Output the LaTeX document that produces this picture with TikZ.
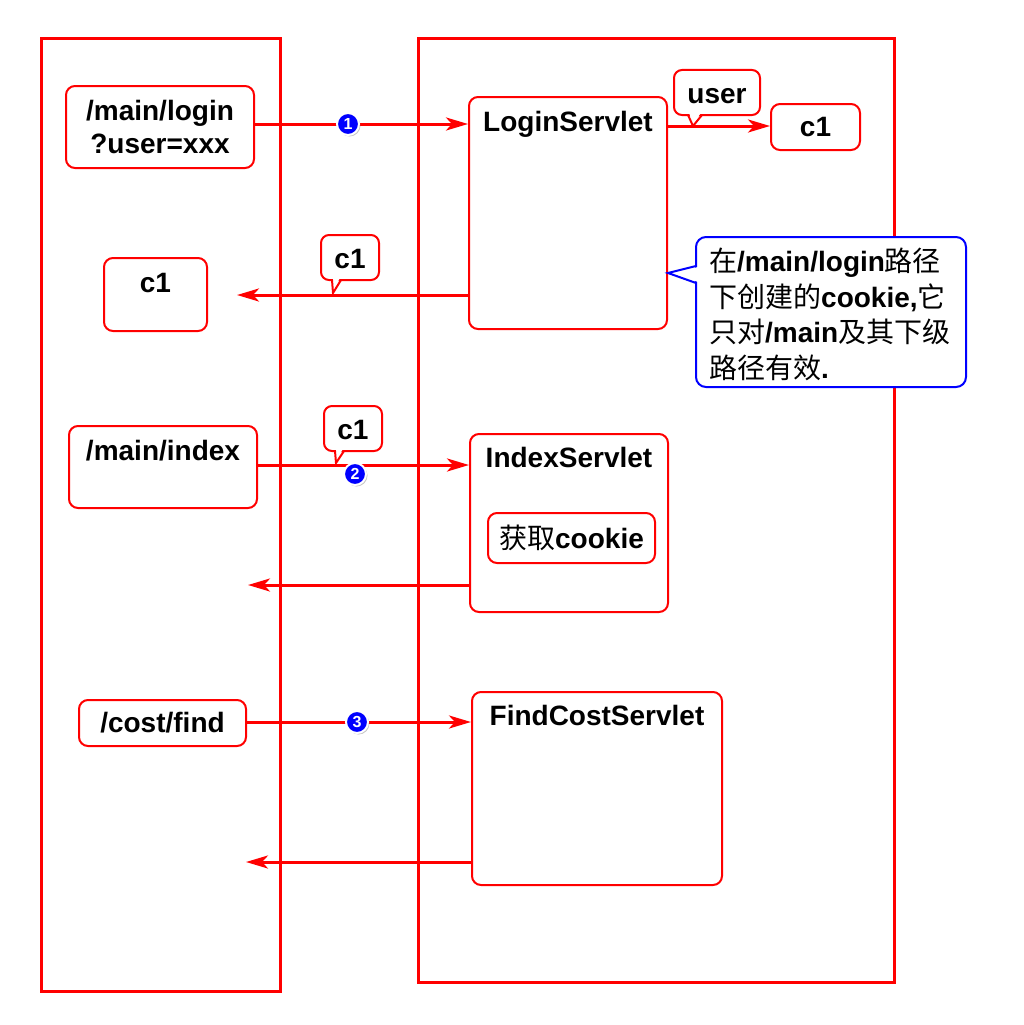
\documentclass[tikz,border=0pt]{standalone}
\usepackage{fontspec}
\setmainfont{Liberation Sans}
\newfontfamily\cjk{Noto Sans CJK SC}
\usetikzlibrary{arrows.meta,shadows,calc}
\newcommand{\zh}[1]{{\cjk\mdseries #1}}
\tikzset{
  frame/.style={draw=red, line width=3pt},
  box/.style={draw=red, line width=2pt, rounded corners=9pt, fill=white, inner sep=0pt,
    font=\bfseries\fontsize{28}{33}\selectfont, align=center},
  ttl/.style={anchor=base, inner sep=0pt, font=\bfseries\fontsize{28}{33}\selectfont},
  conn/.style={draw=red, line width=3pt, -{Stealth[length=22pt,width=13pt,inset=6pt]}},
  num/.style={circle, fill=blue, draw=white, line width=2pt, minimum size=22pt, inner sep=0pt,
    text=white, font=\bfseries\fontsize{16}{16}\selectfont,
    drop shadow={shadow xshift=1.5pt, shadow yshift=-1.5pt, opacity=0.45}},
  callout/.style={draw=red, line width=2pt, fill=white, rounded corners=8pt},
  tail/.style={draw=red, line width=2pt, line join=miter},
  bcallout/.style={draw=blue, line width=2pt, fill=white, rounded corners=10pt},
  btail/.style={draw=blue, line width=2pt, line join=miter},
}
\begin{document}
\begin{tikzpicture}[x=1pt,y=-1pt]
\useasboundingbox (0,0) rectangle (1024,1025);
% frames
\draw[frame] (41,39) rectangle (280,991);
\draw[frame] (418,39) rectangle (894,982);

% left column
\node[box, minimum width=188pt, minimum height=82pt] (login) at (160,127) {/main/login\\?user=xxx};
\node[box, minimum width=103pt, minimum height=73pt] (c1l) at (155.5,294.5) {};
\node[ttl] (c1lt) at (155.5,292) {c1};
\node[box, minimum width=188pt, minimum height=82pt] (index) at (163,467) {};
\node[ttl] (indext) at (163,460) {/main/index};
\node[box, minimum width=167pt, minimum height=46pt] (cost) at (162.5,723) {/cost/find};

% right column
\node[box, minimum width=198pt, minimum height=232pt] (ls) at (568,213) {};
\node[ttl] (lst) at (568,131) {LoginServlet};
\node[box, minimum width=89pt, minimum height=46pt] (c1r) at (815.5,127) {c1};
\node[box, minimum width=198pt, minimum height=178pt] (is) at (569,523) {};
\node[ttl] (ist) at (569,467) {IndexServlet};
\node[box, minimum width=167pt, minimum height=50pt] (get) at (571.5,538) {\zh{获取}cookie};
\node[box, minimum width=250pt, minimum height=193pt] (fs) at (597,788.5) {};
\node[ttl] (fst) at (597,725) {FindCostServlet};

% free ends
\coordinate (e1) at (237,295);
\coordinate (e2) at (248,585);
\coordinate (e3) at (246,862);

% connectors
\draw[conn] (login.east |- 0,124) -- (ls.west |- 0,124);
\draw[conn] (ls.east |- 0,126) -- (c1r.west |- 0,126);
\draw[conn] (ls.west |- e1) -- (e1);
\draw[conn] (index.east |- 0,465) -- (is.west |- 0,465);
\draw[conn] (is.west |- e2) -- (e2);
\draw[conn] (cost.east |- 0,722) -- (fs.west |- 0,722);
\draw[conn] (fs.west |- e3) -- (e3);

% numbers
\node[num] (n1) at (348,124) {1};
\node[num] (n2) at (355,474) {2};
\node[num] (n3) at (357,722) {3};

% callouts
\draw[callout] (674,70) rectangle (760,115);
\fill[white] (689,113) -- (701,113) -- (693,123) -- cycle;
\draw[tail] (688,115) -- (693,126) -- (702,115);
\node[ttl] (usert) at (717,103) {user};

\draw[callout] (321,235) rectangle (379,280);
\fill[white] (333,278) -- (340,278) -- (333,290) -- cycle;
\draw[tail] (332,280) -- (333,293) -- (341,280);
\node[ttl] (c1a) at (350,268) {c1};

\draw[callout] (324,406) rectangle (382,451);
\fill[white] (336,449) -- (343,449) -- (336,460) -- cycle;
\draw[tail] (335,451) -- (336,463) -- (344,451);
\node[ttl] (c1b) at (353,439) {c1};

\draw[bcallout] (696,237) rectangle (966,387);
\fill[white] (698,267) -- (698,282) -- (671,273) -- cycle;
\draw[btail] (696,266) -- (668,273) -- (696,283);
\node[anchor=north west, inner sep=0pt, align=left, font=\bfseries\fontsize{28}{35.5}\selectfont] (note) at (709,248)
  {\zh{在}/main/login\zh{路径}\\
   \zh{下创建的}cookie,\zh{它}\\
   \zh{只对}/main\zh{及其下级}\\
   \zh{路径有效}.};
\end{tikzpicture}
\end{document}
